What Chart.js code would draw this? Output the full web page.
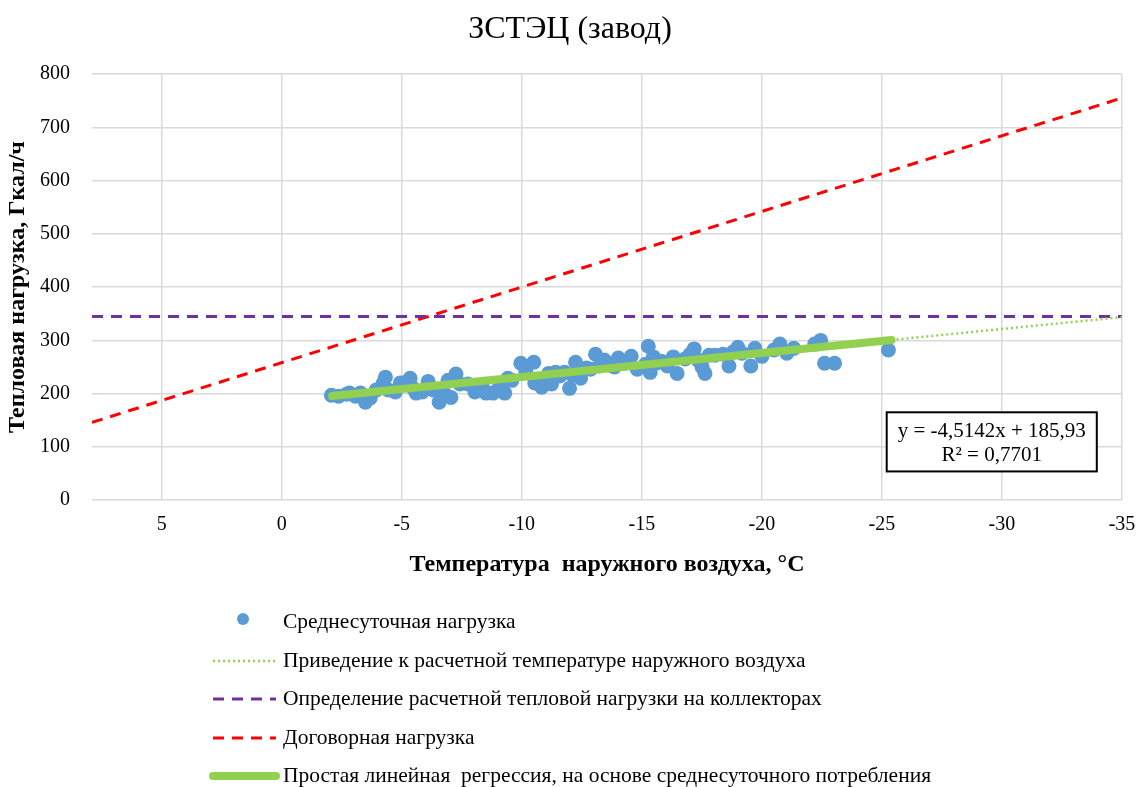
<!DOCTYPE html>
<html>
<head>
<meta charset="utf-8">
<script src="https://cdn.jsdelivr.net/npm/chart.js@4"></script>
<style>
  body { margin: 0; background: #fff; }
</style>
</head>
<body>
<canvas id="chart" width="1139" height="787"></canvas>
<script>
'use strict';

// Среднесуточная нагрузка (температура, нагрузка)
const temp_points = [
  -2.07, -2.37, -2.70, -2.82, -3.07, -3.28, -3.49, -3.69, -3.94, -4.23,
  -4.32, -4.44, -4.73, -4.94, -5.19, -5.35, -5.48, -5.60, -5.85, -6.10,
  -6.31, -6.56, -6.76, -6.93, -7.05, -7.26, -7.43, -7.76, -8.05, -8.38,
  -8.51, -8.80, -9.00, -9.17, -9.29, -9.42, -9.59, -9.96, -10.17, -10.50,
  -10.54, -10.66, -10.83, -11.00, -11.12, -11.24, -11.41, -11.58, -11.78, -11.99,
  -12.12, -12.24, -12.45, -12.70, -12.86, -13.07, -13.24, -13.44, -13.61, -13.86,
  -14.02, -14.27, -14.56, -14.81, -15.15, -15.27, -15.35, -15.48, -15.60, -15.81,
  -16.06, -16.31, -16.47, -16.80, -17.01, -17.18, -17.34, -17.51, -17.63, -17.80,
  -18.05, -18.38, -18.63, -18.80, -19.00, -19.17, -19.54, -19.71, -20.00, -20.50,
  -20.75, -21.04, -21.33, -22.20, -22.45, -22.61, -23.03, -25.27
];
const load_points = [
  197, 195, 199, 201, 195, 201, 184, 192, 207, 220,
  231, 207, 203, 220, 222, 229, 210, 201, 203, 223,
  207, 184, 201, 225, 193, 237, 218, 218, 203, 210,
  201, 201, 207, 214, 201, 229, 225, 257, 242, 259,
  220, 223, 212, 225, 238, 218, 240, 233, 240, 210,
  235, 259, 229, 248, 246, 274, 252, 263, 254, 250,
  267, 257, 270, 246, 255, 289, 240, 269, 257, 261,
  252, 269, 238, 265, 274, 284, 263, 250, 238, 272,
  272, 274, 252, 278, 287, 276, 252, 285, 270, 282,
  293, 276, 285, 293, 300, 257, 257, 282
];

// Простая линейная регрессия и её продолжение
const regress_temp = [-2.1, -25.4];
const regress_load = [195.4, 300.6];
const extend_temp = [-25.4, -35];
const extend_load = [300.6, 343.9];
// Расчетная нагрузка на коллекторах
const design_temp = [7.9, -35];
const design_load = [345, 345];
// Договорная нагрузка
const contract_temp = [7.9, -35];
const contract_load = [146, 755];

const x_ticks = [-35, -30, -25, -20, -15, -10, -5, 0, 5];
const y_ticks = [0, 100, 200, 300, 400, 500, 600, 700, 800];

const legend_labels = [
  "Среднесуточная нагрузка",
  "Приведение к расчетной температуре наружного воздуха",
  "Определение расчетной тепловой нагрузки на коллекторах",
  "Договорная нагрузка",
  "Простая линейная  регрессия, на основе среднесуточного потребления"
];
const trend_text = ["y = -4,5142x + 185,93", "R² = 0,7701"];
const y_title = "Тепловая нагрузка, Гкал/ч";

const serif = "'Liberation Serif', 'Times New Roman', serif";

function to_xy(xs, ys) {
  let out = [];
  for (let i = 0; i < xs.length; i++) out.push({ x: xs[i], y: ys[i] });
  return out;
}

// подпись оси Y, рамка с уравнением и легенда рисуются прямо на холсте
const extras_plugin = {
  id: "extras",
  afterDraw(chart) {
    const ctx = chart.ctx;
    const xs = chart.scales.x, ys = chart.scales.y;
    const area = chart.chartArea;

    // подпись оси Y
    ctx.save();
    ctx.translate(18, (area.top + area.bottom) / 2);
    ctx.rotate(-Math.PI / 2);
    ctx.font = "bold 24px " + serif;
    ctx.fillStyle = "#000";
    ctx.textAlign = "center";
    ctx.textBaseline = "middle";
    ctx.fillText(y_title, 0, 0);
    ctx.restore();

    // рамка с уравнением
    const bx0 = xs.getPixelForValue(-25.2), bx1 = xs.getPixelForValue(-33.95);
    const by0 = ys.getPixelForValue(165), by1 = ys.getPixelForValue(54);
    ctx.save();
    ctx.fillStyle = "#fff";
    ctx.fillRect(bx0, by0, bx1 - bx0, by1 - by0);
    ctx.strokeStyle = "#000";
    ctx.lineWidth = 2;
    ctx.strokeRect(bx0, by0, bx1 - bx0, by1 - by0);
    ctx.fillStyle = "#000";
    ctx.font = "21px " + serif;
    ctx.textAlign = "center";
    ctx.textBaseline = "middle";
    const cx = (bx0 + bx1) / 2, h = by1 - by0;
    ctx.fillText(trend_text[0], cx, by0 + h * 0.33);
    ctx.fillText(trend_text[1], cx, by0 + h * 0.73);
    ctx.restore();

    // легенда
    const rows = [622, 661, 699, 738, 776];
    const order = [1, 2, 3, 4, 0];
    ctx.save();
    ctx.font = "21.5px " + serif;
    ctx.textAlign = "left";
    ctx.textBaseline = "middle";
    for (let i = 0; i < order.length; i++) {
      const ds = chart.data.datasets[order[i]];
      const y = rows[i];
      if (ds.showLine === false) {
        ctx.fillStyle = ds.backgroundColor;
        ctx.beginPath();
        ctx.arc(243, y - 3, 6, 0, Math.PI * 2);
        ctx.fill();
      } else {
        ctx.strokeStyle = ds.borderColor;
        ctx.lineWidth = ds.borderWidth;
        ctx.lineCap = ds.borderWidth > 4 ? "round" : "butt";
        ctx.setLineDash(ds.borderDash || []);
        ctx.beginPath();
        ctx.moveTo(213, y);
        ctx.lineTo(276, y);
        ctx.stroke();
        ctx.setLineDash([]);
      }
      ctx.fillStyle = "#000";
      ctx.fillText(legend_labels[i], 283, y);
    }
    ctx.restore();
  }
};

const ctx = document.querySelector("#chart").getContext("2d");
const chart = new Chart(ctx, {
  type: "scatter",
  data: {
    datasets: [
      {
        label: legend_labels[4],
        data: to_xy(regress_temp, regress_load),
        showLine: true,
        borderColor: "#92d050",
        borderWidth: 8,
        borderCapStyle: "round",
        pointRadius: 0,
      },
      {
        label: legend_labels[0],
        data: to_xy(temp_points, load_points),
        showLine: false,
        backgroundColor: "#5b9bd5",
        borderColor: "#5b9bd5",
        pointRadius: 7.5,
        pointBorderWidth: 0,
      },
      {
        label: legend_labels[1],
        data: to_xy(extend_temp, extend_load),
        showLine: true,
        borderColor: "#92d050",
        borderWidth: 2.5,
        borderDash: [2, 3],
        pointRadius: 0,
      },
      {
        label: legend_labels[2],
        data: to_xy(design_temp, design_load),
        showLine: true,
        borderColor: "#7030a0",
        borderWidth: 3,
        borderDash: [11, 8],
        pointRadius: 0,
      },
      {
        label: legend_labels[3],
        data: to_xy(contract_temp, contract_load),
        showLine: true,
        borderColor: "#ff0000",
        borderWidth: 3,
        borderDash: [11, 8],
        pointRadius: 0,
      },
    ],
  },
  options: {
    responsive: false,
    animation: false,
    layout: { padding: { left: 18, right: 17, top: 0, bottom: 208 } },
    plugins: {
      legend: { display: false },
      tooltip: { enabled: false },
      title: {
        display: true,
        text: "ЗСТЭЦ (завод)",
        color: "#000",
        font: { family: serif, size: 32, weight: "normal" },
        padding: { top: 10, bottom: 25.6 },
      },
    },
    scales: {
      x: {
        type: "linear",
        reverse: true,
        min: -35,
        max: 7.9,
        afterBuildTicks(axis) {
          axis.ticks = x_ticks.map(v => ({ value: v }));
        },
        grid: { color: "#d9d9d9", lineWidth: 1.5, drawTicks: false },
        border: { display: false },
        ticks: { color: "#000", padding: 13, font: { family: serif, size: 20 } },
        title: {
          display: true,
          text: "Температура  наружного воздуха, °С",
          color: "#000",
          font: { family: serif, size: 24, weight: "bold" },
          padding: { top: 0, bottom: 0 },
        },
      },
      y: {
        min: 0,
        max: 800,
        afterBuildTicks(axis) {
          axis.ticks = y_ticks.map(v => ({ value: v }));
        },
        grid: { color: "#d9d9d9", lineWidth: 1.5, drawTicks: false },
        border: { display: false },
        ticks: { color: "#000", padding: 22, font: { family: serif, size: 20 } },
      },
    },
  },
  plugins: [extras_plugin],
});
</script>
</body>
</html>
